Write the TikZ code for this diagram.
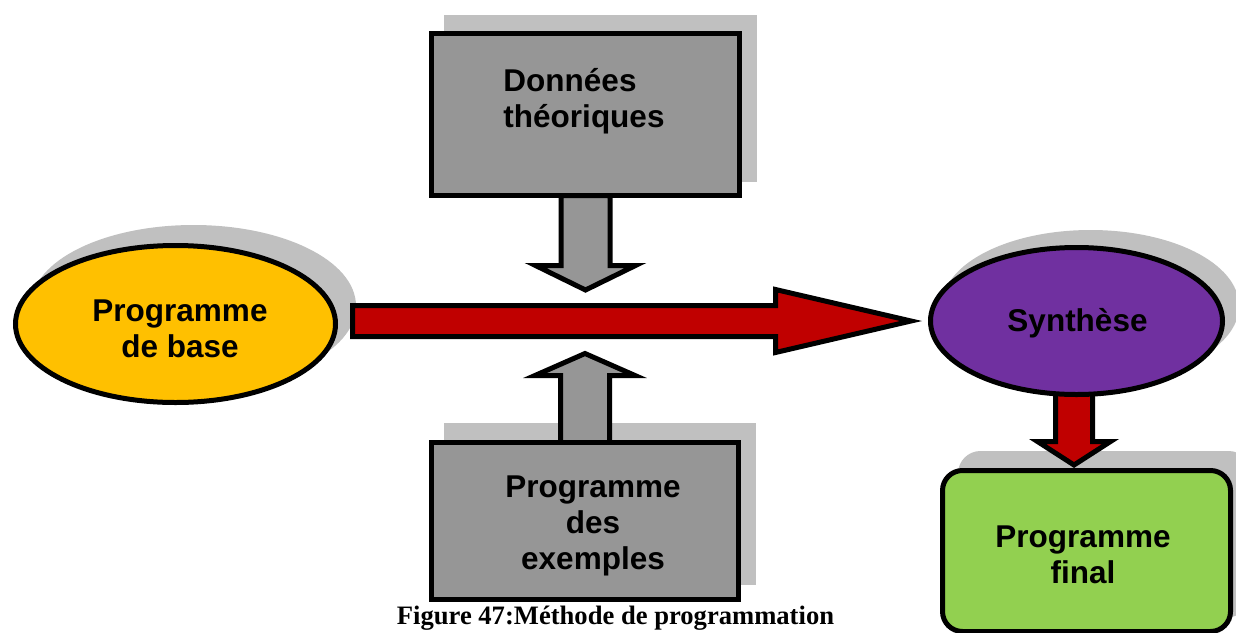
\documentclass[tikz,border=0pt]{standalone}
\usepackage{fontspec}
\setmainfont{Liberation Sans}
\newfontfamily\capfont{Liberation Serif}
\usetikzlibrary{shapes.geometric,calc}

\pgfdeclarelayer{shadow}
\pgfdeclarelayer{under}
\pgfsetlayers{shadow,under,main}

\definecolor{shade}{HTML}{C0C0C0}
\definecolor{boxgray}{HTML}{969696}
\definecolor{flowred}{HTML}{C00000}
\definecolor{basegold}{HTML}{FFC000}
\definecolor{synthpurple}{HTML}{7030A0}
\definecolor{finalgreen}{HTML}{92D050}

% Block arrow: #1 style, #2 start, #3 tip, #4 shaft half-width,
% #5 head half-width, #6 head length
\newcommand\blockarrow[6]{%
  \path (#3) coordinate (ba-tip) ($(#3)!#6!(#2)$) coordinate (ba-neck);
  \draw[#1] ($(#2)!#4!90:(ba-tip)$) -- ($(ba-neck)!#4!90:(ba-tip)$)
    -- ($(ba-neck)!#5!90:(ba-tip)$) -- (ba-tip)
    -- ($(ba-neck)!#5!-90:(ba-tip)$) -- ($(ba-neck)!#4!-90:(ba-tip)$)
    -- ($(#2)!#4!-90:(ba-tip)$) -- cycle;}

\tikzset{
  outline/.style={draw=black, line width=5pt, outer sep=0pt},
  txt/.style={font=\bfseries\fontsize{31.5}{36}\selectfont, align=center, inner sep=0pt},
  graybox/.style={outline, rectangle, fill=boxgray, inner sep=0pt},
  oval/.style={outline, ellipse, inner sep=0pt},
  shadowfill/.style={fill=shade, draw=shade, line width=5pt},
}

\begin{document}
\begin{tikzpicture}[x=1pt,y=-1pt]
\useasboundingbox (0,0) rectangle (1236,632);

% main shapes
\node[graybox, minimum width=308pt, minimum height=162pt] (theo) at (585.5,114.5) {};
\node[txt, align=left] (theoTxt) at (584,101) {Données\\théoriques};

\node[graybox, minimum width=307pt, minimum height=157pt] (exm) at (585,521) {};
\node[txt] (exmTxt) at (593,526) {Programme\\des\\exemples};

\node[oval, fill=basegold, minimum width=320pt, minimum height=157pt] (base) at (175.5,324) {};
\node[txt] (baseTxt) at (180,329) {Programme\\de base};

\node[oval, fill=synthpurple, minimum width=292pt, minimum height=147pt] (synth) at (1076.5,321) {};
\node[txt] (synthTxt) at (1077.5,323) {Synthèse};

\node[outline, rectangle, rounded corners=20pt, fill=finalgreen,
      minimum width=288pt, minimum height=161pt] (final) at (1086.5,551) {};
\node[txt] (finalTxt) at (1083,555) {Programme\\final};

\node[font=\capfont\bfseries\fontsize{26.6}{30}\selectfont, inner sep=0pt, anchor=base] (cap)
  at (615.5,624) {Figure 47:Méthode de programmation};

% drop shadows
\begin{pgfonlayer}{shadow}
  \filldraw[shadowfill] ($(theo.north west)+(15,-16)$) rectangle ($(theo.south east)+(15,-16)$);
  \filldraw[shadowfill] ($(exm.north west)+(15,-17)$) rectangle ($(exm.south east)+(15,-17)$);
  \filldraw[shadowfill] ($(base.center)+(18,-18)$) ellipse [x radius=160pt, y radius=78.5pt];
  \filldraw[shadowfill] ($(synth.center)+(14,-15)$) ellipse [x radius=146pt, y radius=73.5pt];
  \filldraw[shadowfill, rounded corners=20pt] ($(final.north west)+(18,-17)$) rectangle ($(final.south east)+(18,-17)$);
\end{pgfonlayer}

% arrow end points
\coordinate (gdTip) at ($(theo.south)+(0,94.5)$);
\coordinate (guTip) at ($(exm.north)+(0,-89)$);
\coordinate (redA) at ($(base.east)+(17,-3)$);
\coordinate (redB) at ($(synth.west)+(-19.5,0)$);
\coordinate (rdA) at ($(synth.center)+(-2.5,0)$);
\coordinate (rdB) at ($(synth.south)+(-2.5,70.5)$);

% block arrows
\begin{pgfonlayer}{under}
  \blockarrow{outline, fill=boxgray}{theo.south}{gdTip}{24.5pt}{50pt}{24.5pt}
  \blockarrow{outline, fill=boxgray}{exm.north}{guTip}{24.5pt}{50pt}{22pt}
  \blockarrow{outline, fill=flowred}{redA}{redB}{15.5pt}{31.5pt}{135.5pt}
  \blockarrow{outline, fill=flowred}{rdA}{rdB}{18.5pt}{36.5pt}{23.5pt}
\end{pgfonlayer}
\end{tikzpicture}
\end{document}
